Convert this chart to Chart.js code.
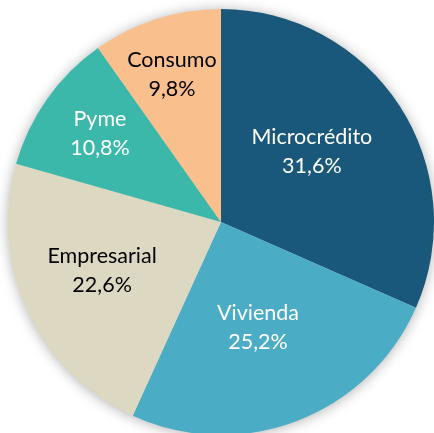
<!DOCTYPE html>
<html>
<head>
<meta charset="utf-8">
<script src="https://cdn.jsdelivr.net/npm/chart.js@4.4.0/dist/chart.umd.min.js"></script>
<style>
  html, body { margin: 0; padding: 0; background: #ffffff; overflow: hidden; }
  #wrap { width: 434px; height: 433px; position: relative; }
</style>
</head>
<body>
<div id="wrap"><canvas id="chart" width="434" height="433"></canvas></div>
<script>
// Chart data
var categories = ['Microcrédito', 'Vivienda', 'Empresarial', 'Pyme', 'Consumo'];
var shares = [31.6, 25.2, 22.6, 10.8, 9.8];
var sliceColors = ['#19587a', '#4bacc6', '#ddd8c1', '#3cb8aa', '#f9c08e'];
var labelColors = ['#ffffff', '#ffffff', '#000000', '#ffffff', '#000000'];

// label placement: fraction of radius and small angle nudge (degrees)
var labelRadius = [0.54, 0.523, 0.603, 0.705, 0.728];
var labelNudge = [-4.7, 1.5, 2.6, 1.0, -0.8];

// soft grey shadow behind the whole pie
var shadowPlugin = {
  id: 'pieShadow',
  beforeDatasetsDraw: function (chart) {
    var arc = chart.getDatasetMeta(0).data[0];
    if (!arc) return;
    var ctx = chart.ctx;
    ctx.save();
    ctx.shadowColor = 'rgba(0, 0, 0, 0.35)';
    ctx.shadowBlur = 14;
    ctx.shadowOffsetX = 0;
    ctx.shadowOffsetY = 1;
    ctx.fillStyle = '#cccccc';
    ctx.beginPath();
    ctx.arc(arc.x, arc.y, arc.outerRadius - 1, 0, Math.PI * 2);
    ctx.fill();
    ctx.restore();
  }
};

// two line labels: name and percentage
var labelPlugin = {
  id: 'sliceLabels',
  afterDatasetsDraw: function (chart) {
    var ctx = chart.ctx;
    var meta = chart.getDatasetMeta(0);
    ctx.save();
    ctx.font = '21.5px Lato';
    ctx.textAlign = 'center';
    ctx.textBaseline = 'middle';
    meta.data.forEach(function (arc, i) {
      var mid = (arc.startAngle + arc.endAngle) / 2 + labelNudge[i] * Math.PI / 180;
      var r = arc.outerRadius * labelRadius[i];
      var x = arc.x + Math.cos(mid) * r;
      var y = arc.y + Math.sin(mid) * r;
      ctx.fillStyle = labelColors[i];
      ctx.fillText(categories[i], x, y - 14.5);
      ctx.fillText(shares[i].toFixed(1).replace('.', ',') + '%', x, y + 14.5);
    });
    ctx.restore();
  }
};

var ctx = document.getElementById('chart').getContext('2d');
var chart = new Chart(ctx, {
  type: 'pie',
  data: {
    labels: categories,
    datasets: [
      {
        data: shares,
        backgroundColor: sliceColors,
        borderWidth: 0
      }
    ]
  },
  options: {
    responsive: false,
    animation: false,
    radius: 213,
    layout: {
      padding: { left: 8, right: 0, top: 11, bottom: 0 }
    },
    plugins: {
      legend: { display: false },
      tooltip: { enabled: false }
    }
  },
  plugins: [shadowPlugin, labelPlugin]
});
</script>
</body>
</html>
